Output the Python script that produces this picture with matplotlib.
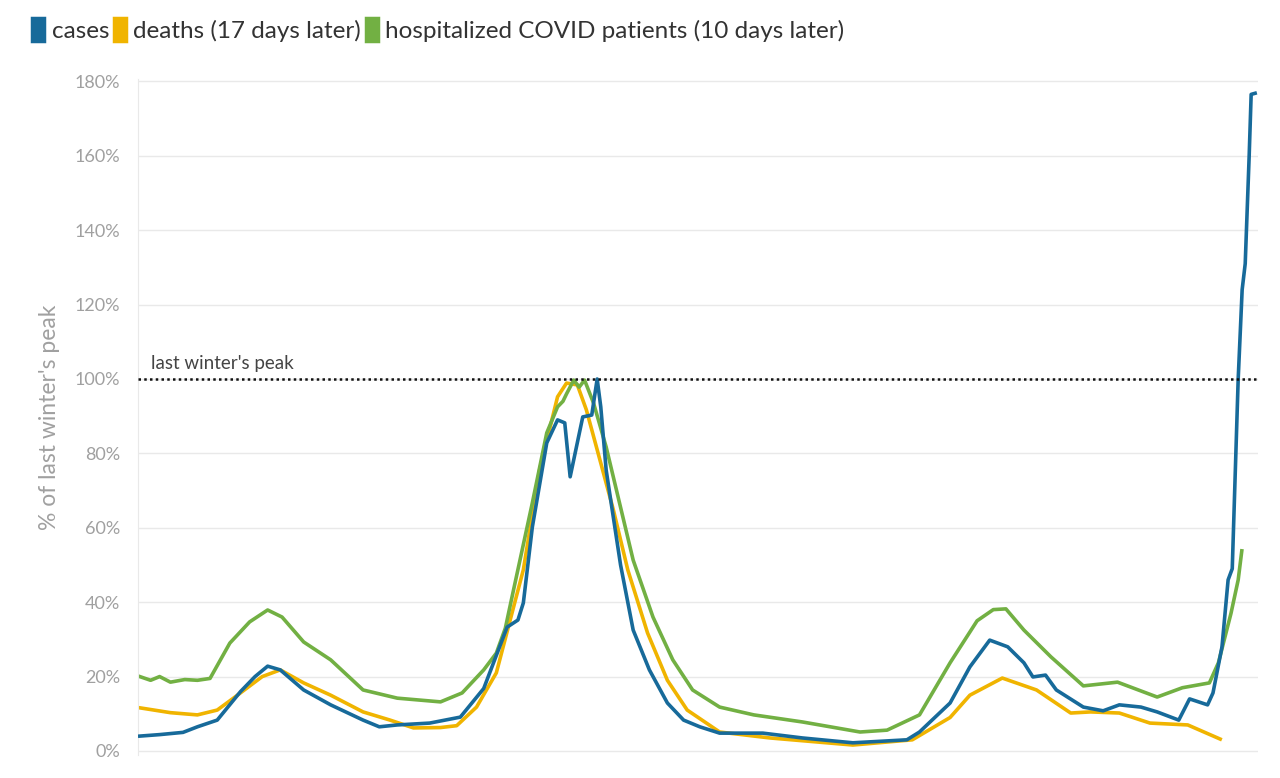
import matplotlib.pyplot as plt
from matplotlib.patches import Patch

# days since start of chart, % of last winter's peak
cases_day = [0, 11, 24, 32, 43, 56, 64, 71, 78, 91, 106, 124, 133, 143, 161, 178, 191,
             204, 210, 213, 218, 226, 232, 236, 239, 246, 251, 254, 256, 259, 267, 274,
             283, 293, 302, 311, 322, 346, 368, 396, 426, 433, 450, 461, 472, 482, 491,
             496, 503, 509, 524, 535, 544, 556, 565, 577, 583, 593, 596, 601, 604.4,
             606.7, 610, 612.2, 613.9, 616.1, 617.2, 619.4]
cases_pct = [4.0, 4.4, 5.0, 6.5, 8.3, 16.0, 20.0, 22.8, 21.8, 16.4, 12.4, 8.3, 6.5, 7.0,
             7.5, 9.1, 16.8, 33.3, 35.2, 39.8, 60.2, 82.8, 89.0, 88.2, 73.7, 89.8, 90.3,
             100.0, 92.5, 75.5, 50.0, 32.5, 21.8, 12.9, 8.3, 6.5, 4.8, 4.8, 3.5, 2.2, 3.0,
             5.1, 12.9, 22.6, 29.8, 28.0, 23.7, 19.9, 20.4, 16.4, 11.8, 10.8, 12.4, 11.8,
             10.5, 8.3, 14.0, 12.4, 15.6, 28.0, 46.0, 49.0, 100.0, 124.0, 131.0, 160.0,
             176.5, 176.8]

hosp_day = [0, 6, 11, 17, 25, 32, 39, 50, 61, 71, 79, 91, 106, 124, 143, 167, 179, 191,
            198, 203, 206, 218, 226, 232, 235, 237, 241, 244, 247, 252, 259, 274, 285,
            296, 307, 322, 341, 368, 400, 415, 433, 450, 465, 474, 481, 491, 506, 524,
            543, 565, 579, 594, 599, 606, 610, 612]
hosp_pct = [20.0, 19.0, 20.0, 18.5, 19.2, 19.0, 19.5, 29.0, 34.7, 37.9, 36.0, 29.3, 24.5,
            16.4, 14.2, 13.2, 15.6, 21.8, 26.3, 33.0, 39.8, 66.7, 85.5, 92.5, 94.0, 96.0,
            99.7, 97.8, 99.7, 93.5, 81.7, 51.3, 36.0, 24.5, 16.4, 11.8, 9.7, 7.8, 5.1, 5.6,
            9.7, 23.7, 35.0, 38.0, 38.2, 32.5, 25.3, 17.5, 18.5, 14.5, 17.0, 18.3, 23.7,
            37.0, 46.0, 53.8]

deaths_day = [0, 17, 32, 43, 52, 68, 78, 91, 106, 124, 139, 152, 167, 176, 187, 198, 213,
              222, 232, 237, 243, 248, 256, 263, 271, 282, 293, 304, 322, 350, 396, 429,
              450, 461, 479, 498, 517, 528, 544, 561, 582, 600]
deaths_pct = [11.6, 10.3, 9.7, 11.0, 14.2, 20.0, 21.8, 18.3, 15.0, 10.5, 8.3, 6.2, 6.3,
              6.8, 11.8, 21.0, 48.7, 75.5, 95.2, 98.9, 98.4, 91.7, 77.4, 64.8, 48.7, 31.7,
              19.0, 11.0, 5.1, 3.5, 1.6, 3.0, 9.0, 15.0, 19.6, 16.4, 10.2, 10.5, 10.2, 7.5,
              7.0, 3.2]

y_ticks = [0, 20, 40, 60, 80, 100, 120, 140, 160, 180]

BLUE = '#176a9a'
YELLOW = '#f0b400'
GREEN = '#72b043'

plt.rcParams['font.family'] = ['Lato', 'DejaVu Sans']

fig = plt.figure(figsize=(12.8, 7.78), dpi=100)
# 0% at y=751px, 180% at y=82px (3.72 px per %)
ax = fig.add_axes([138 / 1280, 23.3 / 778, 1120 / 1280, 675.2 / 778])

ax.plot(cases_day, cases_pct, color=BLUE, lw=2.6, solid_joinstyle='round', zorder=3)
ax.plot(deaths_day, deaths_pct, color=YELLOW, lw=2.6, solid_joinstyle='round', zorder=2)
ax.plot(hosp_day, hosp_pct, color=GREEN, lw=2.6, solid_joinstyle='round', zorder=2.5)

ax.axhline(100, color='#111111', lw=1.8, ls=(0, (1, 1.3)), zorder=4)
ax.text(6, 102.0, "last winter's peak", fontsize=13.5, color='#444444', va='bottom')

ax.set_xlim(-1, 621)
ax.set_ylim(-1, 180.5)
ax.set_yticks(y_ticks)
ax.set_yticklabels([f'{v}%' for v in y_ticks], fontsize=13, color='#a0a0a0')
ax.set_xticks([])
ax.tick_params(axis='y', length=0, pad=13)
ax.grid(axis='y', color='#e9e9e9', lw=1)
ax.set_axisbelow(True)
for side in ['top', 'right', 'bottom']:
    ax.spines[side].set_visible(False)
ax.spines['left'].set_color('#e9e9e9')

ax.set_ylabel("% of last winter's peak", fontsize=16.5, color='#a0a0a0', labelpad=10)

handles = [Patch(facecolor=c, edgecolor=c, linewidth=2.5, joinstyle='round')
           for c in (BLUE, YELLOW, GREEN)]
labels = ['cases', 'deaths (17 days later)', 'hospitalized COVID patients (10 days later)']
fig.legend(handles, labels, loc='upper left', bbox_to_anchor=(0.008, 1.005), ncol=3,
           frameon=False, fontsize=17.5, handlelength=0.5, handleheight=1.1,
           handletextpad=0.3, columnspacing=0.2, labelcolor='#333333')

fig.savefig('out.png', dpi=100)
